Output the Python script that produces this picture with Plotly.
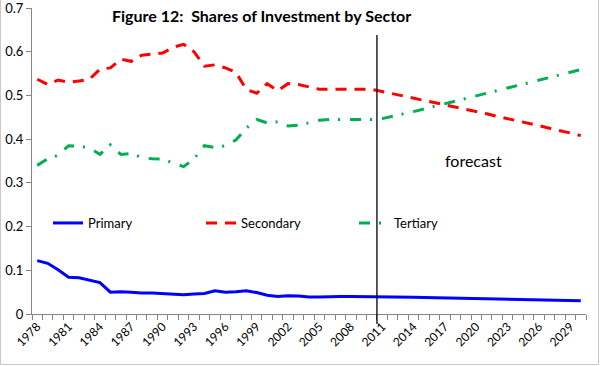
import plotly.graph_objects as go

years = list(range(1978, 2031))

primary = [0.122, 0.116, 0.101, 0.084, 0.083, 0.077, 0.072, 0.050, 0.051, 0.050,
           0.048, 0.048, 0.047, 0.046, 0.044, 0.046, 0.047, 0.053, 0.050, 0.051,
           0.053, 0.049, 0.043, 0.040, 0.042, 0.041, 0.039, 0.039, 0.040, 0.040,
           0.040, 0.040, 0.040, 0.040, 0.0395, 0.039, 0.0385, 0.038, 0.0375, 0.037,
           0.0365, 0.036, 0.0355, 0.035, 0.0345, 0.034, 0.0335, 0.033, 0.0325, 0.032,
           0.0315, 0.031, 0.0305]

secondary = [0.537, 0.525, 0.535, 0.530, 0.533, 0.537, 0.560, 0.563, 0.583, 0.578,
             0.592, 0.595, 0.597, 0.610, 0.617, 0.600, 0.567, 0.570, 0.563, 0.553,
             0.514, 0.505, 0.527, 0.511, 0.527, 0.525, 0.520, 0.514, 0.514, 0.514,
             0.514, 0.514, 0.514, 0.509, 0.504, 0.499, 0.494, 0.489, 0.484, 0.479,
             0.474, 0.468, 0.463, 0.458, 0.452, 0.447, 0.442, 0.436, 0.431, 0.425,
             0.420, 0.414, 0.408]

tertiary = [0.340, 0.355, 0.363, 0.385, 0.384, 0.380, 0.365, 0.387, 0.365, 0.367,
            0.358, 0.355, 0.354, 0.345, 0.337, 0.355, 0.385, 0.381, 0.385, 0.398,
            0.425, 0.445, 0.437, 0.440, 0.430, 0.432, 0.438, 0.443, 0.445, 0.445,
            0.445, 0.445, 0.445, 0.447, 0.452, 0.458, 0.463, 0.469, 0.475, 0.481,
            0.487, 0.493, 0.499, 0.505, 0.511, 0.517, 0.523, 0.529, 0.535, 0.541,
            0.547, 0.553, 0.559]

label_years = list(range(1978, 2030, 3))
y_ticks = [0, 0.1, 0.2, 0.3, 0.4, 0.5, 0.6, 0.7]
y_ticktext = ["0", "0.1", "0.2", "0.3", "0.4", "0.5", "0.6", "0.7"]
forecast_start = 2010.5

FONT = "Lato, 'Liberation Sans', sans-serif"
AXIS_GRAY = "#868686"

fig = go.Figure()
fig.add_trace(go.Scatter(x=years, y=primary, name="Primary", mode="lines",
                         line=dict(color="#0000ff", width=3)))
fig.add_trace(go.Scatter(x=years, y=secondary, name="Secondary", mode="lines",
                         line=dict(color="#ff0000", width=3, dash="11px,8px")))
fig.add_trace(go.Scatter(x=years, y=tertiary, name="Tertiary", mode="lines",
                         line=dict(color="#00b050", width=3, dash="11px,9px,2px,10px")))

L, R, T, B = 32, 14, 8, 52
W, H = 600, 366
pw = W - L - R
ph = H - T - B

fig.add_shape(type="line", xref="x", yref="paper", x0=forecast_start, x1=forecast_start,
              y0=-10 / ph, y1=(ph - 27) / ph, line=dict(color="#000000", width=1.3))

fig.add_shape(type="rect", xref="paper", yref="paper",
              x0=(0.5 - L) / pw, x1=(W - 1.5 - L) / pw,
              y0=-(B - 1.5) / ph, y1=(ph + T + 5) / ph,
              line=dict(color="#c8c8c8", width=1))

fig.add_annotation(x=2019.7, y=0.351, xref="x", yref="y", text="forecast",
                   showarrow=False, font=dict(family=FONT, size=16, color="#000000"))

fig.update_layout(
    width=W, height=H,
    margin=dict(l=L, r=R, t=T, b=B, autoexpand=False),
    paper_bgcolor="white", plot_bgcolor="white",
    font=dict(family=FONT, size=12, color="#000000"),
    title=dict(text="Figure 12: \u00a0Shares of Investment by Sector",
               xref="container", yref="container", x=0.436, y=1 - 16 / H,
               xanchor="center", yanchor="middle",
               font=dict(family=FONT, size=16, color="#000000", weight="bold")),
    legend=dict(orientation="h", x=(48 - L) / pw, y=(ph + T - 223) / ph,
                xanchor="left", yanchor="middle", bgcolor="rgba(0,0,0,0)",
                font=dict(family=FONT, size=13), entrywidth=108, entrywidthmode="pixels",
                tracegroupgap=0),
    showlegend=True,
)

fig.update_xaxes(range=[1977.5, 2030.5], tickmode="array", tickvals=label_years,
                 ticktext=[str(y) for y in label_years], tickangle=-45,
                 ticks="", showline=True, linecolor=AXIS_GRAY, linewidth=1,
                 showgrid=False, zeroline=False, tickfont=dict(size=12),
                 ticklabeloverflow="allow",
                 minor=dict(ticks="outside", tick0=1977.5, dtick=1, ticklen=5,
                            tickcolor=AXIS_GRAY, showgrid=False))
fig.update_yaxes(range=[0, 0.7], tickmode="array", tickvals=y_ticks, ticktext=y_ticktext,
                 ticks="outside", ticklen=5, ticklabeloverflow="allow",
                 tickcolor=AXIS_GRAY, showline=True, linecolor=AXIS_GRAY, linewidth=1,
                 showgrid=False, zeroline=False, tickfont=dict(size=13))

fig.write_html("out.html", config={"displayModeBar": False},
               post_script="document.body.style.margin='0';")
